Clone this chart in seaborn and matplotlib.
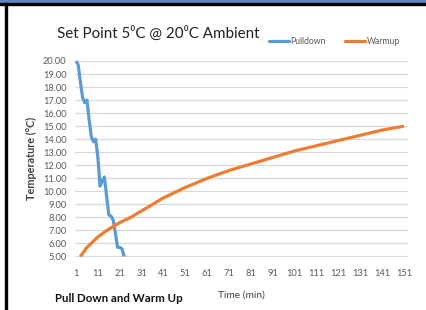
import matplotlib
matplotlib.use("Agg")
import matplotlib.pyplot as plt
import seaborn as sns
import pandas as pd
from matplotlib.patches import Rectangle
from matplotlib.lines import Line2D

# ---- data ----
pull_time = [1, 2, 3, 4, 5, 6, 7, 8, 9, 10, 11, 12, 13, 14, 15, 16, 17, 18, 19, 20, 21, 22, 23]
pull_temp = [20.0, 19.7, 18.4, 17.2, 16.8, 17.0, 15.5, 14.2, 13.8, 14.0, 12.6, 10.4, 10.8,
             11.1, 9.6, 8.2, 8.1, 7.8, 6.8, 5.7, 5.7, 5.6, 5.0]
warm_time = [3, 6, 11, 16, 21, 26, 31, 41, 51, 61, 71, 81, 91, 101, 111, 121, 131, 141, 151]
warm_temp = [5.0, 5.7, 6.5, 7.1, 7.6, 8.0, 8.5, 9.5, 10.3, 11.0, 11.6, 12.1, 12.6, 13.1,
             13.5, 13.9, 14.3, 14.7, 15.0]
series_names = ["Pulldown", "Warmup"]
x_ticks = list(range(1, 152, 10))
y_ticks = list(range(5, 21))
title = "Set Point 5\u2070C @ 20\u2070C Ambient"
x_label = "Time (min)"
y_label = "Temperature (\u00b0C)"
caption = "Pull Down and Warm Up"

df = pd.concat([
    pd.DataFrame({"time": pull_time, "temp": pull_temp, "series": series_names[0]}),
    pd.DataFrame({"time": warm_time, "temp": warm_temp, "series": series_names[1]}),
])

sns.set_style("white")
plt.rcParams["font.family"] = ["Lato", "DejaVu Sans"]

W, H = 426, 310
fig = plt.figure(figsize=(W / 100, H / 100), dpi=100)

def px_axes(l, t, r, b):
    return [l / W, 1 - b / H, (r - l) / W, (b - t) / H]

ax = fig.add_axes(px_axes(75, 61, 408, 256.5))
sns.lineplot(data=df, x="time", y="temp", hue="series",
             palette={"Pulldown": "#5B9BD5", "Warmup": "#ED7D31"},
             linewidth=2.3, ax=ax, legend=False)
for ln in ax.lines:
    ln.set_clip_on(False)
    ln.set_solid_capstyle("butt")

ax.set_xlim(0.54, 152.8)
ax.set_ylim(5, 20)
ax.set_xticks(x_ticks)
ax.set_yticks(y_ticks)
ax.set_yticklabels([f"{v:.2f}" for v in y_ticks])
ax.grid(axis="y", color="#D9D9D9", linewidth=0.9)
ax.grid(axis="x", visible=False)
for s in ax.spines.values():
    s.set_visible(False)
ax.tick_params(axis="both", length=0, labelsize=6.7, colors="#595959")
ax.tick_params(axis="x", pad=9)
ax.tick_params(axis="y", pad=6)
ax.set_xlabel(x_label, fontsize=7.3, color="#404040", labelpad=9)
ax.set_ylabel(y_label, fontsize=7.8, color="#404040", fontweight="bold", labelpad=4)

# title
fig.text(57 / W, 1 - 33 / H, title, fontsize=10.9, color="#222222", va="center", ha="left")

# legend
handles = [Line2D([], [], color="#5B9BD5", lw=2.3), Line2D([], [], color="#ED7D31", lw=2.3)]
fig.legend(handles, series_names, loc="center left", bbox_to_anchor=(269 / W, 1 - 42 / H),
           ncol=2, frameon=False, fontsize=6.2, handlelength=2.3, handletextpad=0.2,
           columnspacing=2.2, labelcolor="#595959", borderaxespad=0, borderpad=0)

# caption
fig.text(55 / W, 1 - 298 / H, caption, fontsize=8.3, fontweight="bold", color="#111111",
         va="center", ha="left")

# frame decoration
fig.patches.append(Rectangle((0, 1 - 3 / H), 1, 3 / H, transform=fig.transFigure,
                             color="#5F86C0", zorder=10))
fig.patches.append(Rectangle((0, 1 - 5 / H), 1, 2 / H, transform=fig.transFigure,
                             color="#000000", zorder=10))
fig.patches.append(Rectangle((5 / W, 0), 2 / W, 1 - 3 / H, transform=fig.transFigure,
                             color="#000000", zorder=10))

fig.savefig("out.png", dpi=100)
